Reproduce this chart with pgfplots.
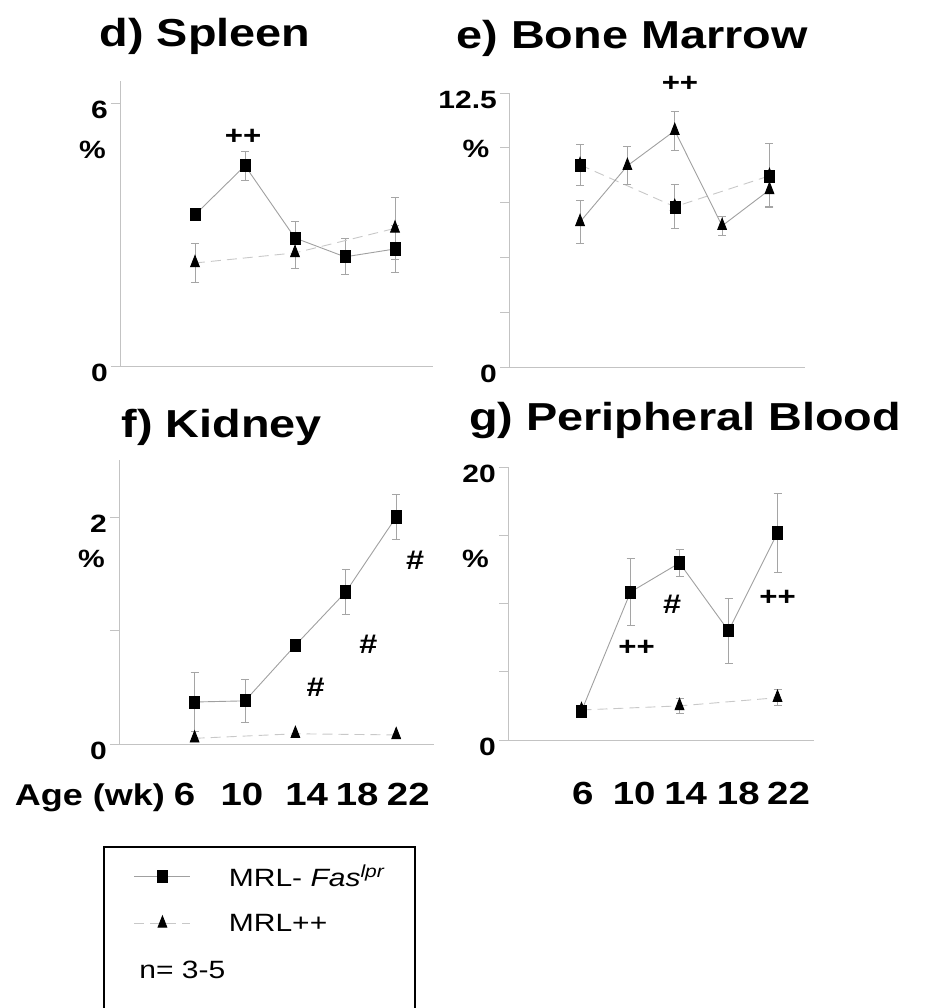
\documentclass[border=0pt]{standalone}
\usepackage{fontspec}
\setmainfont{Liberation Sans}[FakeStretch=1.2]
\usepackage{pgfplots}
\pgfplotsset{compat=1.18}

\definecolor{lnA}{RGB}{160,160,160}
\definecolor{lnB}{RGB}{200,200,200}
\definecolor{ebar}{RGB}{165,165,165}
\definecolor{axgray}{RGB}{195,195,195}
\newcommand{\fs}[1]{\fontsize{#1}{#1}\selectfont}

\pgfplotsset{
  panel/.style={scale only axis, axis x line*=bottom, axis y line*=left,
    axis line style={axgray, line width=0.8pt},
    xmin=0, xmax=25, ymin=0, clip=false, anchor=south west,
    xtick=\empty, xtick style={draw=none}, xtick align=inside,
    ytick style={axgray, line width=0.8pt}, ytick align=outside, major tick length=9pt,
    yticklabel style={font=\bfseries\fs{25}, yshift=-7pt, inner sep=3pt},
    xticklabel style={font=\bfseries\fs{32}, anchor=base}},
  sq/.style={color=lnA, line width=0.9pt, solid, mark=square*, mark size=5.5pt,
    mark options={solid, fill=black, draw=black, xscale=0.9, yscale=1.1}},
  tri/.style={color=lnB, line width=0.9pt, dash pattern=on 10pt off 6pt, mark=triangle*, mark size=5.3pt,
    mark options={solid, fill=black, draw=black, xscale=0.95, yscale=1.4}},
  eb/.style={/pgfplots/error bars/y dir=both, /pgfplots/error bars/y explicit,
    /pgfplots/error bars/error bar style={ebar, line width=0.8pt, solid},
    /pgfplots/error bars/error mark options={rotate=90, mark size=4pt, ebar, line width=0.8pt, solid}},
}

\begin{document}
\begin{tikzpicture}
\useasboundingbox (0,0) rectangle (928pt,1008pt);

% d) Spleen
\begin{axis}[panel, at={(120pt,642pt)}, width=312.5pt, height=284.9pt, ymax=6.5,
  ytick={0,6}, yticklabels={0,6}]
\addplot[sq, eb] coordinates {(6,3.45) +- (0,0.08) (10,4.57) +- (0,0.33) (14,2.92) +- (0,0.37) (18,2.49) +- (0,0.41) (22,2.67) +- (0,0.53)};
\addplot[tri, eb] coordinates {(6,2.35) +- (0,0.44) (14,2.58) +- (0,0.36) (22,3.14) +- (0,0.71)};
\node[font=\bfseries\fs{39}, anchor=base] at (axis cs:6.8,7.28) {d) Spleen};
\node[font=\bfseries\fs{25}] at (axis cs:-2.2,4.93) {\%};
\node[font=\bfseries\fs{26}] at (axis cs:9.84,5.22) {++};
\end{axis}

% e) Bone Marrow
\begin{axis}[panel, at={(509pt,641pt)}, width=296pt, height=274pt, ymax=12.5,
  ytick={0,2.5,5,7.5,10,12.5}, yticklabels={0,,,,,12.5}]
\addplot[tri, eb] coordinates {(6,9.22) +- (0,0.94) (14,7.31) +- (0,1.0) (22,8.72) +- (0,1.46)};
\addplot[sq, eb, mark=triangle*, mark size=5.3pt, mark options={solid, fill=black, draw=black, xscale=0.95, yscale=1.4}] coordinates {(6,6.62) +- (0,0.96) (10,9.18) +- (0,0.87) (14,10.78) +- (0,0.9) (18,6.44) +- (0,0.43) (22,8.08) +- (0,0.77)};
\addplot[only marks, mark=square*, mark size=5.5pt, mark options={fill=black, draw=black, xscale=0.9, yscale=1.1}] coordinates {(6,9.22) (14,7.31) (22,8.72)};
\node[font=\bfseries\fs{39}, anchor=base] at (axis cs:10.4,14.55) {e) Bone Marrow};
\node[font=\bfseries\fs{25}] at (axis cs:-2.79,9.95) {\%};
\node[font=\bfseries\fs{26}] at (axis cs:14.44,12.9) {++};
\end{axis}

% f) Kidney
\begin{axis}[panel, at={(119pt,264pt)}, width=315pt, height=283.75pt, ymax=2.5,
  ytick={0,1,2}, yticklabels={0,,2},
  xtick={5.2,9.76,14.9,18.9,22.96}, xticklabels={\llap{\fs{30}Age (wk)\hspace{9pt}}6,10,14,18,22},
  xticklabel style={yshift=-61pt},
  legend cell align=left,
  legend image code/.code={\draw[mark repeat=2, mark phase=2, #1] plot coordinates {(0pt,0pt) (28pt,0pt) (56pt,0pt)};},
  legend style={at={(-0.0508,-0.3595)}, anchor=north west, draw=black, line width=2pt,
    inner xsep=30pt, inner ysep=6pt,
    nodes={inner sep=0pt, minimum height=47pt, font=\fs{25}}, column sep=38pt}]
\addplot[sq, eb] coordinates {(6,0.37) +- (0,0.26) (10,0.38) +- (0,0.19) (14,0.87) +- (0,0.02) (18,1.34) +- (0,0.2) (22,2.0) +- (0,0.2)};
\addlegendentry{\fs{25}MRL- \textit{Fas}\textsuperscript{\textit{lpr}}}
\addplot[tri] coordinates {(6,0.05) (14,0.09) (22,0.08)};
\addlegendentry{\fs{25}MRL++}
\addlegendimage{empty legend}
\addlegendentry{\fs{25}\hspace*{-94pt}n= 3-5}
\addlegendimage{empty legend}
\addlegendentry{}
\node[font=\bfseries\fs{39}, anchor=base] at (axis cs:8.17,2.70) {f) Kidney};
\node[font=\bfseries\fs{25}] at (axis cs:-2.18,1.63) {\%};
\node[font=\bfseries\fs{27}] at (axis cs:15.6,0.50) {\#};
\node[font=\bfseries\fs{27}] at (axis cs:19.8,0.88) {\#};
\node[font=\bfseries\fs{27}] at (axis cs:23.5,1.62) {\#};
\end{axis}

% g) Peripheral Blood
\begin{axis}[panel, at={(508pt,268pt)}, width=306.25pt, height=273pt, ymax=20,
  ytick={0,5,10,15,20}, yticklabels={0,,,,20},
  xtick={6.1,10.3,14.5,18.8,22.9}, xticklabels={6,10,14,18,22},
  xticklabel style={yshift=-65pt}]
\addplot[tri, eb] coordinates {(6,2.2) +- (0,0.2) (14,2.5) +- (0,0.55) (22,3.1) +- (0,0.6)};
\addplot[sq, eb] coordinates {(6,2.12) +- (0,0.3) (10,10.84) +- (0,2.45) (14,12.97) +- (0,1.0) (18,8.0) +- (0,2.4) (22,15.17) +- (0,2.9)};
\node[font=\bfseries\fs{39}, anchor=base] at (axis cs:14.45,22.7) {g) Peripheral Blood};
\node[font=\bfseries\fs{25}] at (axis cs:-2.65,13.3) {\%};
\node[font=\bfseries\fs{26}] at (axis cs:10.5,6.74) {++};
\node[font=\bfseries\fs{27}] at (axis cs:13.4,9.96) {\#};
\node[font=\bfseries\fs{26}] at (axis cs:22.0,10.4) {++};
\end{axis}
\end{tikzpicture}
\end{document}
